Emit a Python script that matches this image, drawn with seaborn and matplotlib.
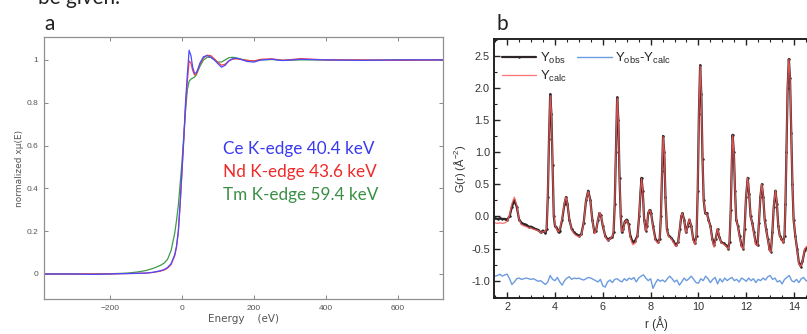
import numpy as np
import pandas as pd
import matplotlib
matplotlib.use("Agg")
import matplotlib.pyplot as plt
import seaborn as sns
from matplotlib.ticker import MultipleLocator, FuncFormatter, FormatStrFormatter

# ---------------- Panel a: XANES ----------------
energy = [-380, -300, -250, -200, -150, -120, -100, -80, -60, -50,
          -40, -30, -20, -15, -10, -5, 0, 5, 10, 15,
          20, 25, 30, 35, 40, 45, 50, 60, 70, 80,
          90, 100, 110, 120, 130, 140, 150, 160, 180, 200,
          220, 250, 280, 330, 400, 500, 600, 725]
mu_ce = [0.000, 0.000, -0.002, 0.000, 0.002, 0.003, 0.004, 0.008, 0.015, 0.020,
         0.030, 0.048, 0.090, 0.130, 0.200, 0.330, 0.480, 0.630, 0.800, 0.930,
         1.045, 1.020, 0.965, 0.937, 0.940, 0.960, 0.985, 1.015, 1.020, 1.013,
         1.000, 0.982, 0.966, 0.975, 0.995, 1.005, 1.008, 1.005, 0.993, 0.990,
         1.000, 1.003, 0.997, 1.003, 1.000, 0.998, 1.000, 1.000]
mu_nd = [0.000, 0.000, 0.000, 0.000, 0.002, 0.003, 0.004, 0.007, 0.013, 0.018,
         0.027, 0.044, 0.085, 0.125, 0.195, 0.320, 0.470, 0.620, 0.780, 0.900,
         0.995, 0.985, 0.950, 0.930, 0.935, 0.955, 0.980, 1.010, 1.022, 1.020,
         1.005, 0.988, 0.975, 0.980, 0.995, 1.003, 1.005, 1.003, 0.998, 0.995,
         1.003, 1.005, 0.998, 1.006, 1.000, 1.000, 0.998, 1.000]
mu_tm = [0.000, 0.000, 0.000, 0.001, 0.004, 0.010, 0.016, 0.026, 0.040, 0.050,
         0.068, 0.110, 0.190, 0.250, 0.320, 0.420, 0.520, 0.640, 0.760, 0.860,
         0.900, 0.910, 0.915, 0.920, 0.930, 0.950, 0.970, 1.000, 1.012, 1.012,
         1.000, 0.990, 0.990, 1.000, 1.010, 1.012, 1.010, 1.005, 0.998, 0.995,
         1.000, 1.002, 0.998, 1.000, 1.000, 0.998, 1.000, 1.000]
edge_labels = ["Ce K-edge 40.4 keV", "Nd K-edge 43.6 keV", "Tm K-edge 59.4 keV"]
xanes_xticks = [-200, 0, 200, 400, 600]
xanes_yticks = [0, 0.2, 0.4, 0.6, 0.8, 1.0]

# ---------------- Panel b: PDF ----------------
r_pdf = [1.50, 1.60, 1.70, 1.80, 1.90, 2.00, 2.10, 2.20, 2.30, 2.40,
         2.50, 2.60, 2.70, 2.80, 2.90, 3.00, 3.10, 3.20, 3.30, 3.40,
         3.50, 3.60, 3.65, 3.70, 3.75, 3.80, 3.85, 3.90, 3.95, 4.00,
         4.05, 4.10, 4.15, 4.20, 4.30, 4.40, 4.46, 4.52, 4.60, 4.70,
         4.80, 4.90, 5.00, 5.10, 5.20, 5.30, 5.39, 5.48, 5.56, 5.65,
         5.72, 5.80, 5.86, 5.92, 6.00, 6.10, 6.20, 6.30, 6.40, 6.45,
         6.50, 6.55, 6.60, 6.65, 6.70, 6.75, 6.80, 6.85, 6.92, 7.00,
         7.08, 7.15, 7.25, 7.35, 7.45, 7.52, 7.58, 7.62, 7.67, 7.73,
         7.80, 7.85, 7.90, 7.96, 8.02, 8.10, 8.20, 8.30, 8.38, 8.43,
         8.48, 8.52, 8.57, 8.62, 8.68, 8.75, 8.85, 8.95, 9.05, 9.15,
         9.22, 9.28, 9.33, 9.40, 9.48, 9.55, 9.62, 9.70, 9.78, 9.85,
         9.92, 9.97, 10.02, 10.07, 10.12, 10.17, 10.22, 10.28, 10.35, 10.42,
         10.50, 10.58, 10.65, 10.72, 10.80, 10.87, 10.95, 11.05, 11.15, 11.25,
         11.30, 11.35, 11.40, 11.43, 11.48, 11.53, 11.58, 11.65, 11.72, 11.80,
         11.87, 11.93, 11.99, 12.06, 12.12, 12.18, 12.25, 12.32, 12.40, 12.47,
         12.53, 12.59, 12.65, 12.71, 12.77, 12.83, 12.90, 12.97, 13.03, 13.09,
         13.15, 13.22, 13.28, 13.34, 13.40, 13.47, 13.55, 13.60, 13.64, 13.68,
         13.73, 13.78, 13.83, 13.88, 13.93, 13.98, 14.05, 14.12, 14.20, 14.28,
         14.35, 14.45, 14.55, 14.65]
g_obs = [-0.03, -0.04, -0.03, -0.04, -0.04, -0.05, 0.00, 0.15, 0.25, 0.15,
         -0.05, -0.10, -0.12, -0.13, -0.16, -0.16, -0.18, -0.20, -0.21, -0.25,
         -0.22, -0.26, -0.20, 0.30, 1.20, 1.90, 1.60, 0.80, 0.00, -0.15,
         -0.17, -0.20, -0.25, -0.22, -0.05, 0.20, 0.30, 0.20, -0.05, -0.20,
         -0.25, -0.28, -0.30, -0.28, -0.10, 0.25, 0.40, 0.25, -0.05, -0.25,
         -0.22, -0.05, 0.05, 0.02, -0.15, -0.30, -0.36, -0.34, -0.32, -0.25,
         0.20, 1.00, 1.85, 1.50, 0.60, 0.00, -0.25, -0.20, -0.08, -0.05,
         -0.12, -0.30, -0.40, -0.38, -0.30, 0.00, 0.40, 0.60, 0.40, -0.05,
         -0.22, -0.15, 0.05, 0.10, 0.05, -0.15, -0.35, -0.40, -0.35, 0.00,
         0.70, 1.25, 1.00, 0.30, -0.20, -0.30, -0.33, -0.38, -0.45, -0.40,
         -0.20, 0.00, 0.05, -0.05, -0.25, -0.15, -0.05, -0.15, -0.35, -0.42,
         -0.30, 0.40, 1.60, 2.35, 1.90, 0.90, 0.25, 0.05, 0.05, -0.05,
         -0.15, -0.35, -0.45, -0.35, -0.20, -0.32, -0.40, -0.42, -0.45, -0.50,
         -0.40, 0.10, 0.90, 1.27, 1.00, 0.40, -0.05, -0.15, -0.30, -0.45,
         -0.50, -0.20, 0.30, 0.60, 0.35, 0.00, -0.10, -0.25, -0.42, -0.45,
         -0.10, 0.30, 0.50, 0.30, -0.05, -0.20, -0.35, -0.50, -0.55, -0.25,
         0.15, 0.40, 0.20, -0.15, -0.30, -0.35, -0.40, -0.30, 0.20, 1.00,
         2.00, 2.45, 2.15, 1.30, 0.50, -0.05, -0.30, -0.50, -0.72, -0.78,
         -0.70, -0.52, -0.48, -0.50]
g_calc = [-0.10, -0.11, -0.10, -0.11, -0.10, -0.08, 0.02, 0.20, 0.30, 0.18,
          -0.05, -0.13, -0.15, -0.16, -0.18, -0.18, -0.20, -0.21, -0.22, -0.25,
          -0.24, -0.24, -0.18, 0.32, 1.22, 1.88, 1.62, 0.82, 0.02, -0.13,
          -0.18, -0.22, -0.24, -0.20, -0.03, 0.22, 0.30, 0.20, -0.04, -0.21,
          -0.27, -0.30, -0.32, -0.29, -0.11, 0.25, 0.39, 0.24, -0.06, -0.27,
          -0.22, -0.04, 0.06, 0.02, -0.14, -0.31, -0.38, -0.35, -0.31, -0.23,
          0.22, 1.02, 1.84, 1.52, 0.62, 0.01, -0.24, -0.21, -0.09, -0.06,
          -0.13, -0.33, -0.44, -0.42, -0.31, 0.01, 0.41, 0.59, 0.40, -0.06,
          -0.23, -0.15, 0.06, 0.10, 0.04, -0.17, -0.37, -0.42, -0.35, 0.01,
          0.71, 1.24, 1.01, 0.31, -0.21, -0.31, -0.34, -0.40, -0.47, -0.41,
          -0.19, 0.01, 0.05, -0.06, -0.26, -0.15, -0.04, -0.15, -0.37, -0.44,
          -0.30, 0.42, 1.62, 2.34, 1.91, 0.92, 0.26, 0.05, 0.04, -0.06,
          -0.16, -0.37, -0.48, -0.36, -0.19, -0.32, -0.41, -0.43, -0.46, -0.51,
          -0.39, 0.12, 0.91, 1.26, 1.01, 0.41, -0.04, -0.16, -0.32, -0.47,
          -0.51, -0.19, 0.31, 0.60, 0.36, 0.00, -0.11, -0.26, -0.44, -0.46,
          -0.09, 0.31, 0.50, 0.31, -0.05, -0.21, -0.36, -0.53, -0.56, -0.24,
          0.16, 0.40, 0.21, -0.15, -0.31, -0.36, -0.41, -0.29, 0.22, 1.02,
          2.01, 2.45, 2.16, 1.31, 0.51, -0.04, -0.30, -0.52, -0.74, -0.78,
          -0.70, -0.50, -0.46, -0.48]
r_diff = [round(1.5 + 0.1 * i, 1) for i in range(132)]
g_diff = [-0.93, -0.92, -0.90, -0.93, -0.91, -0.90, -0.97, -1.06, -1.02, -0.97,
          -0.96, -0.98, -0.97, -0.96, -0.97, -0.98, -0.97, -0.99, -1.01, -1.00,
          -1.03, -1.06, -1.02, -0.92, -0.98, -1.00, -0.95, -1.02, -1.07, -1.00,
          -0.96, -0.94, -0.98, -0.96, -0.97, -0.96, -0.98, -0.99, -0.97, -0.95,
          -0.96, -0.98, -1.00, -1.02, -0.98, -1.08, -1.10, -1.02, -0.99, -1.03,
          -0.98, -0.97, -1.00, -1.02, -0.97, -1.00, -0.96, -0.98, -0.95, -1.02,
          -0.96, -0.93, -0.91, -0.96, -1.00, -0.97, -1.12, -1.04, -0.98, -1.01,
          -0.99, -1.02, -0.97, -0.93, -0.97, -1.02, -0.99, -1.07, -1.02, -0.96,
          -1.00, -0.97, -0.93, -0.98, -1.03, -1.04, -0.97, -1.00, -0.93, -0.97,
          -1.03, -0.98, -0.95, -1.05, -0.97, -1.02, -0.96, -1.00, -0.97, -0.95,
          -1.00, -0.98, -1.02, -0.96, -0.98, -1.01, -0.96, -1.00, -0.97, -1.03,
          -0.98, -1.00, -0.96, -0.99, -0.94, -0.92, -0.98, -0.96, -1.02, -1.00,
          -1.05, -0.98, -0.95, -0.92, -1.00, -1.02, -0.98, -1.03, -0.97, -0.95,
          -1.00, -1.02]
pdf_labels = [r"Y$_{\mathregular{obs}}$", r"Y$_{\mathregular{calc}}$",
              r"Y$_{\mathregular{obs}}$-Y$_{\mathregular{calc}}$"]

# ---------------- Figure ----------------
sns.set_theme(style="white")
plt.rcParams["font.family"] = ["Liberation Sans", "DejaVu Sans"]
plt.rcParams["mathtext.default"] = "regular"

fig = plt.figure(figsize=(8.07, 3.34), dpi=100)
fig.patch.set_facecolor("white")

# stray caption fragment at the very top (cut off in the source too)
fig.text(38 / 807, 1 - 4 / 334, "be given.", family=["Lato", "DejaVu Sans"],
         fontsize=15, color="#222222", va="baseline", ha="left")

# ----- panel a -----
ax1 = fig.add_axes([44 / 807, 1 - 299 / 334, (443 - 44) / 807, (299 - 37) / 334])
df_a = pd.DataFrame({"E": energy, "Ce": mu_ce, "Nd": mu_nd, "Tm": mu_tm})
line_cols = {"Ce": "#4a4aff", "Nd": "#ff4040", "Tm": "#3f9a4a"}
for key in ["Tm", "Nd", "Ce"]:
    sns.lineplot(data=df_a, x="E", y=key, ax=ax1, color=line_cols[key],
                 lw=0.9, sort=False, legend=False)
ax1.set_xlim(-383, 725)
ax1.set_ylim(-0.117, 1.107)
ax1.set_xticks(xanes_xticks)
ax1.set_yticks(xanes_yticks)
ax1.yaxis.set_major_formatter(FuncFormatter(lambda v, p: "%g" % v))
ax1.tick_params(direction="in", length=3, width=0.7, colors="#888888",
                labelcolor="#555555", labelsize=6, top=True, right=True,
                bottom=True, left=True, pad=4)
for sp in ax1.spines.values():
    sp.set_color("#909090")
    sp.set_linewidth(0.9)
ax1.set_xlabel("Energy    (eV)", fontsize=7.5, color="#555555", labelpad=2,
               family=["DejaVu Sans"])
ax1.set_ylabel("normalized xμ(E)", fontsize=6.5, color="#555555", labelpad=2,
               family=["DejaVu Sans"])
txt_cols = ["#3a3af0", "#ee2a2a", "#3a8f45"]
for i, (lab, c) in enumerate(zip(edge_labels, txt_cols)):
    ax1.text(0.448, 0.574 - i * 0.089, lab, transform=ax1.transAxes,
             color=c, fontsize=12.3, family=["Lato", "DejaVu Sans"],
             ha="left", va="center")
fig.text(44 / 807, 1 - 24 / 334, "a", fontsize=15, family=["Lato", "DejaVu Sans"],
         color="#222222", va="center", ha="left")

# ----- panel b -----
ax2 = fig.add_axes([494 / 807, 1 - 298 / 334, (818 - 494) / 807, (298 - 39) / 334])
df_obs = pd.DataFrame({"r": r_pdf, "G": g_obs})
df_calc = pd.DataFrame({"r": r_pdf, "G": g_calc})
df_diff = pd.DataFrame({"r": r_diff, "G": g_diff})
sns.lineplot(data=df_obs, x="r", y="G", ax=ax2, color="#2e2626", lw=1.6,
             marker="o", markersize=1.8, markeredgewidth=0, sort=False,
             label=pdf_labels[0])
sns.lineplot(data=df_calc, x="r", y="G", ax=ax2, color="#ff5a5a", lw=0.9,
             alpha=0.85, sort=False, label=pdf_labels[1])
sns.lineplot(data=df_diff, x="r", y="G", ax=ax2, color="#6b9be0", lw=1.0,
             sort=False, label=pdf_labels[2])
ax2.set_xlim(1.45, 15.0)
ax2.set_ylim(-1.27, 2.76)
ax2.xaxis.set_major_locator(MultipleLocator(2))
ax2.xaxis.set_minor_locator(MultipleLocator(0.5))
ax2.yaxis.set_major_locator(MultipleLocator(0.5))
ax2.yaxis.set_minor_locator(MultipleLocator(0.25))
ax2.yaxis.set_major_formatter(FormatStrFormatter("%.1f"))
ax2.tick_params(which="both", direction="in", top=True, right=True,
                bottom=True, left=True, colors="#222222")
ax2.tick_params(which="major", length=4, width=1.0, labelsize=7.8, pad=3,
                labelcolor="#333333")
ax2.tick_params(which="minor", length=2, width=0.8)
for sp in ax2.spines.values():
    sp.set_color("#222222")
    sp.set_linewidth(1.4)
ax2.set_xlabel("r (Å)", fontsize=8.5, color="#333333", labelpad=3)
ax2.set_ylabel("G(r) (Å$^{-2}$)", fontsize=8, color="#333333", labelpad=2)
h, l = ax2.get_legend_handles_labels()
leg = ax2.legend(h, l, loc="upper left", ncol=2, frameon=False, fontsize=9.5,
                 handlelength=2.6, handletextpad=0.25, columnspacing=0.8,
                 labelspacing=0.2, borderaxespad=0.2, numpoints=1,
                 bbox_to_anchor=(0.0, 0.985))
fig.text(497 / 807, 1 - 24 / 334, "b", fontsize=15, family=["Lato", "DejaVu Sans"],
         color="#222222", va="center", ha="left")

fig.savefig("out.png", dpi=100, facecolor="white")
